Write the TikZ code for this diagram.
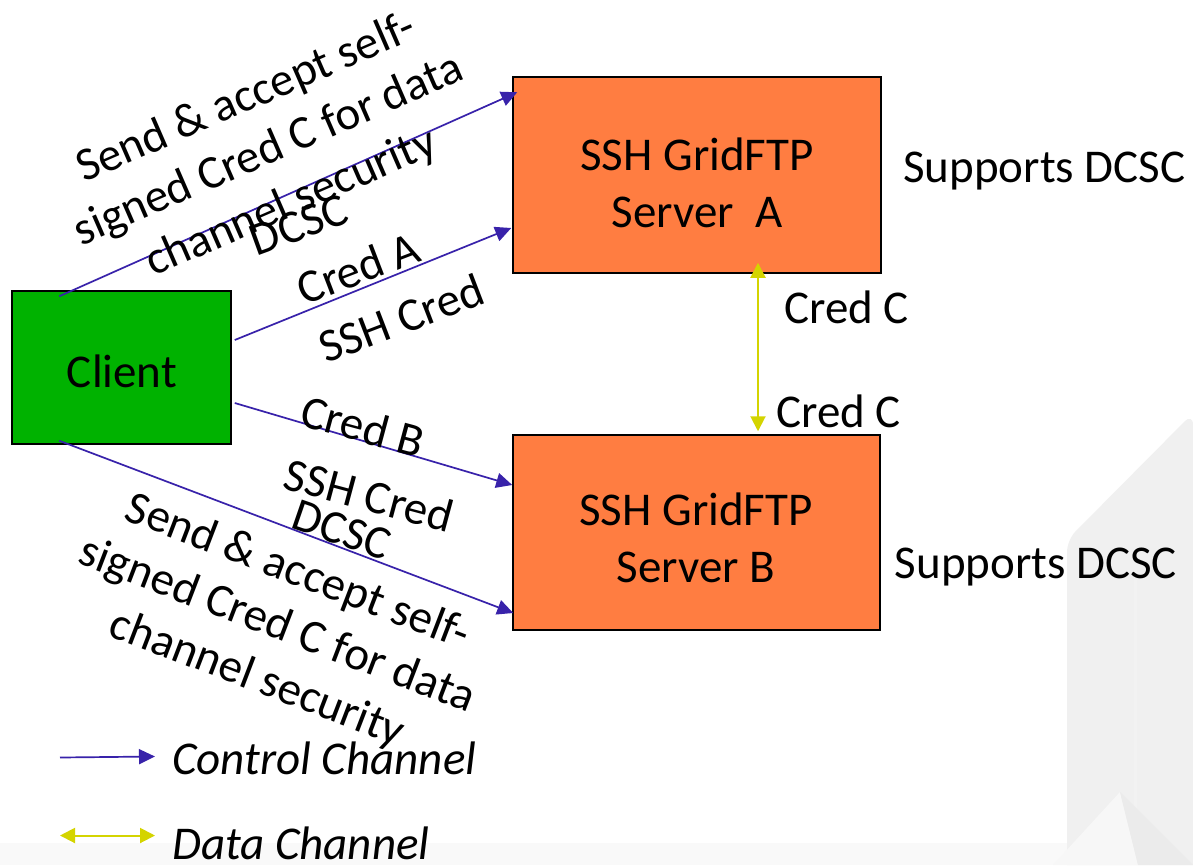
\documentclass[tikz,border=0pt]{standalone}
\usepackage{fontspec}
\setmainfont{Carlito}
\usetikzlibrary{arrows.meta}
\definecolor{ctrlblue}{RGB}{56,34,170}
\definecolor{datayellow}{RGB}{212,212,0}
\definecolor{clientgreen}{RGB}{0,178,0}
\definecolor{serverorange}{RGB}{255,125,65}
\begin{document}
\begin{tikzpicture}[x=1pt,y=-1pt,
  big/.style={font=\fontsize{47}{57}\selectfont},
  box/.style={draw=black, line width=1.5pt, inner sep=0pt},
  lbl/.style={big, inner sep=0pt, align=center},
  ctrl/.style={ctrlblue, line width=1.7pt, -{Triangle[length=16pt,width=15pt]}},
  datab/.style={datayellow, line width=2pt, {Triangle[length=15pt,width=15pt]}-{Triangle[length=15pt,width=15pt]}},
]
\useasboundingbox (0,0) rectangle (1193,865);
% background
\fill[white] (0,0) rectangle (1193,865);
\fill[black!2.5] (0,843) rectangle (1193,865);
\fill[black!6] (1067,865) [rounded corners=12pt] -- (1067,540) -- (1193,413) [sharp corners] -- (1193,865) -- cycle;
\fill[black!5] (1134,570) rectangle (1137,865);
\fill[black!3] (1053,865) -- (1120,792) -- (1138,865) -- cycle;
\fill[black!8] (1120,792) -- (1193,865) -- (1138,865) -- cycle;

% boxes
\node[box, fill=clientgreen, minimum width=219pt, minimum height=153pt] (client) at (121.5,367.5) {};
\node[box, fill=serverorange, minimum width=368pt, minimum height=196pt] (sA) at (697,175) {};
\node[box, fill=serverorange, minimum width=367pt, minimum height=195pt] (sB) at (696.5,532.5) {};
\node[lbl] (clientt) at (122,371) {Client};
\node[lbl] (sAt) at (697,183) {SSH GridFTP\\Server\ \ A};
\node[lbl] (sBt) at (696,538) {SSH GridFTP\\Server B};

% connector end points
\coordinate (a1s) at ([xshift=48pt,yshift=-6pt]client.north west);
\coordinate (a1e) at ([xshift=5pt,yshift=-16pt]sA.north west);
\coordinate (a2s) at ([xshift=3pt,yshift=27.5pt]client.east);
\coordinate (a2e) at ([xshift=-1pt,yshift=-53pt]sA.west);
\coordinate (a3s) at ([xshift=3pt,yshift=-35.5pt]client.east);
\coordinate (a3e) at ([yshift=47.5pt]sB.west);
\coordinate (a4s) at ([xshift=48pt,yshift=4pt]client.south west);
\coordinate (a4e) at ([xshift=1pt,yshift=-80.5pt]sB.west);
\coordinate (ys) at ([xshift=61pt,yshift=11pt]sA.south);
\coordinate (ye) at ([xshift=61.5pt,yshift=3pt]sB.north);

\draw[ctrl] (a1s) -- (a1e);
\draw[ctrl] (a2s) -- (a2e);
\draw[ctrl] (a3s) -- (a3e);
\draw[ctrl] (a4s) -- (a4e);
\draw[datab] (ys) -- (ye);

% labels
\node[lbl, rotate=23.5] (t1) at (269,151) {Send \& accept self-\\signed Cred C for data\\channel security};
\node[lbl, rotate=20] (t2) at (299,225) {DCSC};
\node[lbl, rotate=21] (t3) at (358,268) {Cred A};
\node[lbl, rotate=21] (t4) at (401,318) {SSH Cred};
\node[lbl, rotate=-15] (t5) at (363,426) {Cred B};
\node[lbl, rotate=-15] (t6) at (369,495) {SSH Cred};
\node[lbl, rotate=-19] (t7) at (342,530) {DCSC};
\node[lbl, rotate=-21] (t8) at (277,626) {Send \& accept self-\\signed Cred C for data\\channel security};

\node[lbl] (cc1) at (846.5,307) {Cred C};
\node[lbl] (cc2) at (838.5,411) {Cred C};
\node[lbl] (supA) at (1044.5,171) {Supports DCSC};
\node[lbl] (supB) at (1036,567) {Supports DCSC};

% legend
\coordinate (l1s) at (60,757.5);
\coordinate (l1e) at (155,756.5);
\coordinate (l2s) at (60,835.5);
\coordinate (l2e) at (155,835.5);
\draw[ctrl] (l1s) -- (l1e);
\draw[datab] (l2s) -- (l2e);
\node[lbl, anchor=west, font=\fontsize{47}{57}\selectfont\itshape] (lt1) at (172,758.5) {Control Channel};
\node[lbl, anchor=west, font=\fontsize{47}{57}\selectfont\itshape] (lt2) at (172,843.5) {Data Channel};
\end{tikzpicture}
\end{document}
